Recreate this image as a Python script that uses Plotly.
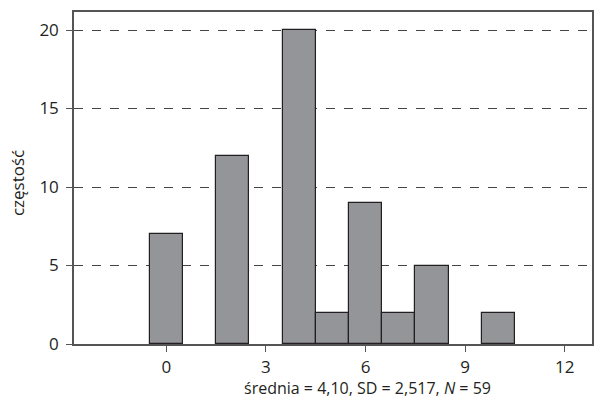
import plotly.graph_objects as go

values = [0, 2, 4, 5, 6, 7, 8, 10]
counts = [7, 12, 20, 2, 9, 2, 5, 2]
x_ticks = [0, 3, 6, 9, 12]
y_ticks = [0, 5, 10, 15, 20]
x_title = "średnia = 4,10, SD = 2,517, <i>N</i> = 59"
y_title = "częstość"

fig = go.Figure(go.Bar(
    x=values, y=counts, width=1,
    marker=dict(color="#939598", line=dict(color="#231f20", width=1.2)),
))

fam = "Open Sans, Lato, sans-serif"
fig.update_layout(
    width=595, height=412,
    margin=dict(l=74, r=1, t=12, b=68),
    paper_bgcolor="white", plot_bgcolor="white",
    font=dict(family=fam, size=17, color="#231f20"),
    showlegend=False, bargap=0,
)
fig.update_xaxes(
    range=[-2.78, 12.82], tickvals=x_ticks, ticktext=[str(v) for v in x_ticks],
    ticks="outside", ticklen=6, tickcolor="#555", tickwidth=1.2,
    ticklabelstandoff=1,
    showline=True, linecolor="#555", linewidth=1.5, mirror=True,
    showgrid=False, zeroline=False,
)
fig.update_yaxes(
    range=[0, 21.15], tickvals=y_ticks,
    ticks="outside", ticklen=6, tickcolor="#555", tickwidth=1.2,
    ticklabelstandoff=4,
    showline=True, linecolor="#555", linewidth=1.5, mirror=True,
    showgrid=True, gridcolor="#444", griddash="dash", gridwidth=1,
    zeroline=False,
)
fig.add_annotation(
    text=x_title, xref="paper", yref="paper", x=0.567, y=-0.132,
    xanchor="center", yanchor="middle", showarrow=False,
    font=dict(family=fam, size=16, color="#231f20"),
)
fig.add_annotation(
    text=y_title, xref="paper", yref="paper", x=-0.108, y=0.485,
    xanchor="center", yanchor="middle", showarrow=False, textangle=-90,
    font=dict(family=fam, size=17, color="#231f20"),
)
fig.write_html(
    "out.html",
    config={"displayModeBar": False},
    post_script="document.body.style.margin='0';document.body.style.overflow='hidden';",
)
